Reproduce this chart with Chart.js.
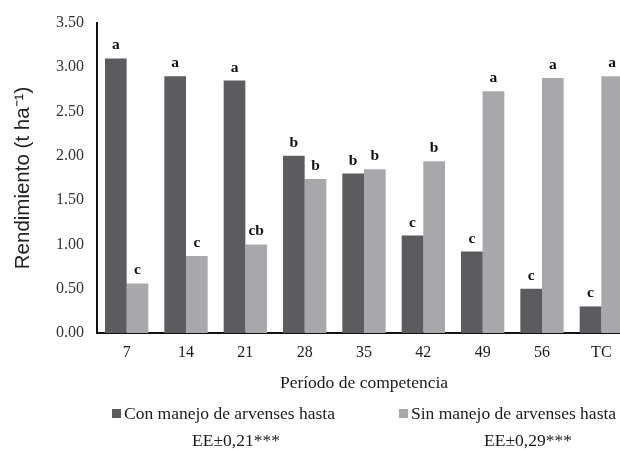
<!DOCTYPE html>
<html>
<head>
<meta charset="utf-8">
<script src="https://cdn.jsdelivr.net/npm/chart.js@4/dist/chart.umd.min.js"></script>
<style>
  html, body { margin: 0; padding: 0; background: #fff; overflow: hidden; }
  #wrap { width: 620px; height: 450px; overflow: hidden; }
  canvas { display: block; }
</style>
</head>
<body>
<div id="wrap"><canvas id="c" width="640" height="450"></canvas></div>
<script>
// Competition periods (days) and grain yield, t/ha
const periods = ['7', '14', '21', '28', '35', '42', '49', '56', 'TC'];
const conManejo = [3.10, 2.90, 2.85, 2.00, 1.80, 1.10, 0.92, 0.50, 0.30];
const sinManejo = [0.56, 0.87, 1.00, 1.74, 1.85, 1.94, 2.73, 2.88, 2.90];
// Mean-separation letters above each bar
const letrasCon = ['a', 'a', 'a', 'b', 'b', 'c', 'c', 'c', 'c'];
const letrasSin = ['c', 'c', 'cb', 'b', 'b', 'b', 'a', 'a', 'a'];
const yTicks = [0, 0.5, 1, 1.5, 2, 2.5, 3, 3.5];
const seriesNames = ['Con manejo de arvenses hasta', 'Sin manejo de arvenses hasta'];
const errorTexts = ['EE±0,21***', 'EE±0,29***'];

const DARK = '#5a5c5f';
const LIGHT = '#a7a8ab';
const SERIF = '"Liberation Serif", "Times New Roman", serif';

// Letters over bars, plus the legend and standard-error lines under the axis
const annotate = {
  id: 'annotate',
  afterDatasetsDraw(chart) {
    const ctx = chart.ctx;
    const letters = [letrasCon, letrasSin];
    ctx.save();
    ctx.fillStyle = '#111';
    ctx.font = 'bold 15.5px ' + SERIF;
    ctx.textAlign = 'center';
    ctx.textBaseline = 'alphabetic';
    chart.data.datasets.forEach((ds, i) => {
      chart.getDatasetMeta(i).data.forEach((bar, j) => {
        ctx.fillText(letters[i][j], bar.x, bar.y - 9);
      });
    });

    // legend
    const legendY = 414;
    const items = [{ x: 112, color: DARK }, { x: 399, color: LIGHT }];
    ctx.font = '17.5px ' + SERIF;
    ctx.textAlign = 'left';
    ctx.textBaseline = 'middle';
    items.forEach((it, i) => {
      ctx.fillStyle = it.color;
      ctx.fillRect(it.x, legendY - 5, 9, 9);
      ctx.fillStyle = '#1a1a1a';
      ctx.fillText(seriesNames[i], it.x + 12, legendY);
    });
    ctx.textAlign = 'center';
    ctx.fillText(errorTexts[0], 236, 441);
    ctx.fillText(errorTexts[1], 528, 441);
    ctx.restore();
  }
};

new Chart(document.getElementById('c'), {
  type: 'bar',
  data: {
    labels: periods,
    datasets: [
      { label: seriesNames[0], data: conManejo, backgroundColor: DARK },
      { label: seriesNames[1], data: sinManejo, backgroundColor: LIGHT }
    ]
  },
  options: {
    responsive: false,
    animation: false,
    devicePixelRatio: 1,
    layout: { padding: { top: 23, right: 9, left: 0, bottom: 0 } },
    datasets: { bar: { categoryPercentage: 0.73, barPercentage: 1.0 } },
    plugins: {
      legend: { display: false },
      tooltip: { enabled: false }
    },
    scales: {
      x: {
        grid: { display: false, drawTicks: false },
        border: { display: true, color: '#111', width: 2 },
        ticks: { color: '#1a1a1a', font: { family: SERIF, size: 16 }, padding: 10 },
        title: {
          display: true,
          text: 'Período de competencia',
          color: '#1a1a1a',
          font: { family: SERIF, size: 17.5 },
          padding: { top: 0, bottom: 56 }
        },
        afterFit(scale) { scale.height = 117; }
      },
      y: {
        min: 0,
        max: 3.5,
        afterBuildTicks(scale) { scale.ticks = yTicks.map(v => ({ value: v })); },
        grid: { display: false, drawTicks: false },
        border: { display: true, color: '#111', width: 2 },
        ticks: {
          color: '#333',
          font: { family: SERIF, size: 16 },
          padding: 13,
          callback: v => Number(v).toFixed(2)
        },
        title: {
          display: true,
          text: 'Rendimiento (t ha⁻¹)',
          color: '#222',
          font: { family: '"Liberation Sans", Arial, sans-serif', size: 20.5 },
          padding: { top: 11, bottom: 0 }
        },
        afterFit(scale) { scale.width = 97; }
      }
    }
  },
  plugins: [annotate]
});
</script>
</body>
</html>
